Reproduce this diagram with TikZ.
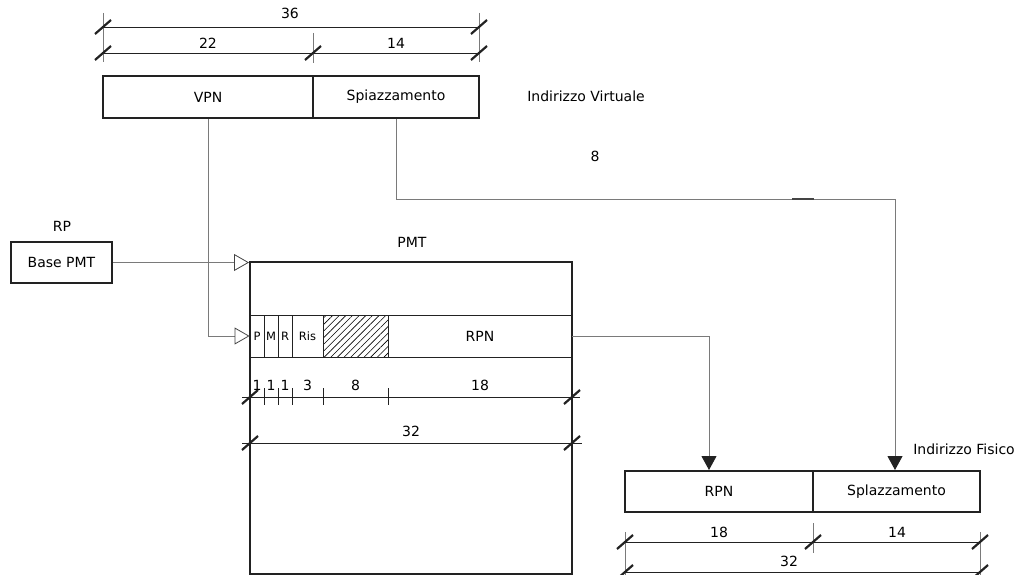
\documentclass[tikz,border=0pt]{standalone}
\usepackage{fontspec}
\setmainfont{DejaVu Sans}
\usetikzlibrary{arrows.meta,patterns.meta,calc}
\definecolor{wire-gray}{HTML}{7A7A7A}
\definecolor{box-dark}{HTML}{222222}
\definecolor{head-gray}{HTML}{444444}
\newcommand{\dimslash}[1]{\draw[tickmark] ($(#1)+(-8,7)$) -- ($(#1)+(8,-7)$);}

\begin{document}
\begin{tikzpicture}[x=1pt, y=-1pt,
      every node/.style={font=\fontsize{14}{16}\selectfont, inner sep=0pt},
      field/.style={draw=box-dark, line width=2pt, fill=white, minimum height=42pt},
      cell/.style={draw=box-dark, line width=0.9pt, minimum height=42pt,
                   font=\fontsize{11.5}{13}\selectfont},
      wire/.style={draw=wire-gray, line width=1pt},
      dimline/.style={draw=box-dark, line width=0.8pt},
      extline/.style={draw=wire-gray, line width=0.9pt},
      openhead/.style={-{Triangle[open, length=15pt, width=17pt, line width=0.8pt, color=head-gray]}},
      fullhead/.style={-{Triangle[length=14pt, width=15pt, color=box-dark]}},
      tickmark/.style={draw=box-dark, line width=2.2pt}]
    \useasboundingbox (0,0) rectangle (1020,575);

    % virtual address
    \node[field, minimum width=210pt] (vpn) at (208,97) {VPN};
    \node[field, minimum width=166pt] (spz) at (396,97) {Spiazzamento};
    \node (virt) at (586,96) {Indirizzo Virtuale};
    \node (eight) at (595,156) {8};
    \draw[extline] (103,13) -- (103,62);
    \draw[extline] (313,33) -- (313,63);
    \draw[extline] (479,13) -- (479,62);
    \draw[dimline] (103,27) -- (479,27);
    \draw[dimline] (103,53) -- (479,53);
    \dimslash{103,27} \dimslash{479,27}
    \dimslash{103,53} \dimslash{313,53} \dimslash{479,53}
    \node at (290,13) {36};
    \node at (208,43) {22};
    \node at (396,43) {14};

    % register and table
    \node (rp) at (62,226) {RP};
    \node[field, minimum width=101pt, minimum height=41pt] (base) at (61.5,262.5) {Base PMT};
    \node (pmtlabel) at (412,242) {PMT};
    \node[cell, minimum width=14pt] (cp) at (257,336) {P};
    \node[cell, minimum width=14pt] (cm) at (271,336) {M};
    \node[cell, minimum width=14pt] (cr) at (285,336) {R};
    \node[cell, minimum width=31pt] (cris) at (307.5,336) {Ris};
    \node[cell, minimum width=65pt,
          pattern={Lines[angle=45, distance=4.7pt, line width=0.6pt]}] (chatch) at (355.5,336) {};
    \node[cell, minimum width=184pt, font=\fontsize{14}{16}\selectfont] (crpn) at (480,336) {RPN};
    \node[draw=box-dark, line width=2pt, minimum width=322pt, minimum height=312pt] (pmt) at (411,418) {};

    \draw[dimline] (242,397) -- (580,397);
    \foreach \x in {264,278,292,323,388}
      \draw[dimline] (\x,388) -- (\x,405);
    \dimslash{250,397} \dimslash{572,397}
    \node at (257,385) {1};
    \node at (271,385) {1};
    \node at (285,385) {1};
    \node at (307.5,385) {3};
    \node at (355.5,385) {8};
    \node at (480,385) {18};
    \draw[dimline] (242,443) -- (582,443);
    \dimslash{250,443} \dimslash{572,443}
    \node at (411,431) {32};

    % physical address
    \node[field, minimum width=188pt, minimum height=41pt] (prpn) at (719,491.5) {RPN};
    \node[field, minimum width=167pt, minimum height=41pt] (pspz) at (896.5,491.5) {Splazzamento};
    \node (fis) at (964,449) {Indirizzo Fisico};
    \draw[extline] (625,532) -- (625,575);
    \draw[extline] (813,523) -- (813,553);
    \draw[extline] (980,532) -- (980,575);
    \draw[dimline] (625,542) -- (980,542);
    \dimslash{625,542} \dimslash{813,542} \dimslash{980,542}
    \node at (719,532) {18};
    \node at (897,532) {14};
    \draw[dimline] (625,572) -- (980,572);
    \dimslash{625,572} \dimslash{980,572}
    \node at (789,561) {32};

    % connectors
    \coordinate (bend) at (895,199);
    \draw[wire, openhead] (base.east) -- (base.east -| pmt.west);
    \draw[wire, openhead] (vpn.south) |- (cp.west);
    \draw[wire, fullhead] (spz.south) |- (bend) -- (bend |- pspz.north);
    \draw[wire, fullhead] (crpn.east) -| ([xshift=-10pt]prpn.north);
    \draw[draw=head-gray, line width=1.2pt] (792,199) -- (814,199);
\end{tikzpicture}
\end{document}
